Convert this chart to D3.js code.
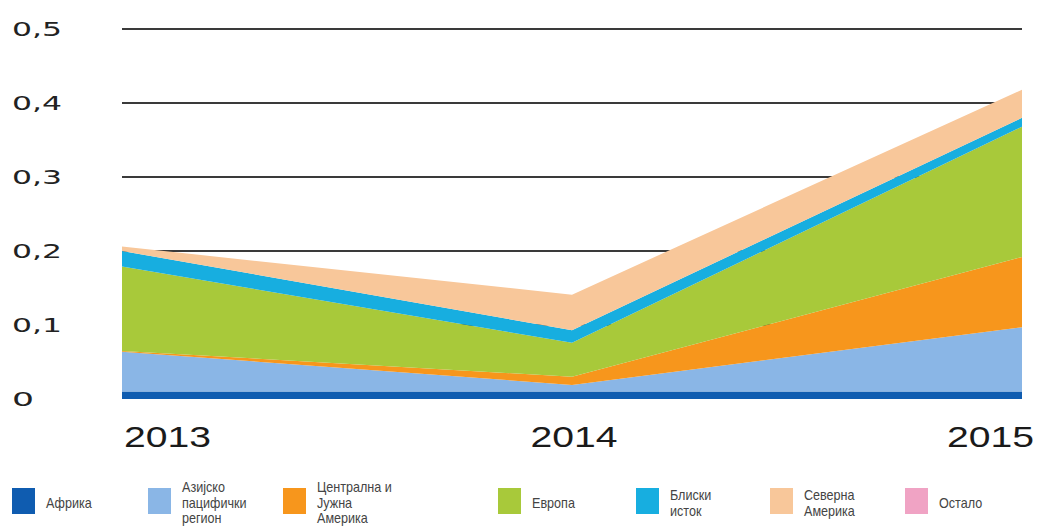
<!DOCTYPE html>
<html>
<head>
<meta charset="utf-8">
<script src="https://cdn.jsdelivr.net/npm/d3@7"></script>
<style>
  html, body { margin: 0; padding: 0; background: #fff; }
  svg { display: block; }
</style>
</head>
<body>
<svg id="chart" width="1038" height="530"></svg>
<script>
// Years on the x axis
const years = ["2013", "2014", "2015"];

// Regional values per year (stacked bottom to top)
const africa        = [0.010, 0.010, 0.010];
const asiaPacific   = [0.054, 0.009, 0.087];
const centralSouth  = [0.001, 0.011, 0.095];
const europe        = [0.114, 0.046, 0.176];
const middleEast    = [0.021, 0.017, 0.012];
const northAmerica  = [0.006, 0.048, 0.038];
const other         = [0.000, 0.000, 0.000];

// Series names as shown in the legend (line breaks with "|")
const seriesNames = [
  "Африка",
  "Азијско|пацифички|регион",
  "Централна и|Јужна|Америка",
  "Европа",
  "Блиски|исток",
  "Северна|Америка",
  "Остало"
];
const seriesValues = [africa, asiaPacific, centralSouth, europe, middleEast, northAmerica, other];
const seriesColors = ["#0f5cb0", "#8ab6e6", "#f7961c", "#a8c93a", "#17aee0", "#f8c79a", "#f0a3c4"];

// Y axis ticks
const yTicks = [0, 0.1, 0.2, 0.3, 0.4, 0.5];
const yTickLabels = ["0", "0,1", "0,2", "0,3", "0,4", "0,5"];

const svg = d3.select("#chart");

const x = d3.scalePoint().domain(years).range([122, 1022]);
const y = d3.scaleLinear().domain([0, 0.5]).range([399, 29]);

// Build table for the stack layout
const keys = seriesNames.map((d, i) => "s" + i);
const table = years.map((yr, j) => {
  const row = { year: yr };
  keys.forEach((k, i) => { row[k] = seriesValues[i][j]; });
  return row;
});
const stacked = d3.stack().keys(keys)(table);

// Grid lines (behind the areas)
svg.append("g")
  .selectAll("line")
  .data(yTicks.filter(t => t > 0))
  .join("line")
  .attr("x1", 122).attr("x2", 1022)
  .attr("y1", d => y(d)).attr("y2", d => y(d))
  .attr("stroke", "#3a3a3a")
  .attr("stroke-width", 2);

// Stacked areas
const area = d3.area()
  .x(d => x(d.data.year))
  .y0(d => y(d[0]))
  .y1(d => y(d[1]))
  .curve(d3.curveLinear);

svg.append("g")
  .selectAll("path")
  .data(stacked)
  .join("path")
  .attr("d", area)
  .attr("fill", (d, i) => seriesColors[i]);

// Y tick labels
svg.append("g")
  .selectAll("text")
  .data(yTicks)
  .join("text")
  .attr("x", 12)
  .attr("y", d => y(d) + 7)
  .attr("font-family", "'DejaVu Sans', Verdana, sans-serif")
  .attr("font-size", 19)
  .attr("fill", "#222")
  .attr("textLength", (d, i) => yTickLabels[i].length === 1 ? 22 : 50)
  .attr("lengthAdjust", "spacingAndGlyphs")
  .text((d, i) => yTickLabels[i]);

// X tick labels
const xAnchor = ["start", "middle", "end"];
const xOffset = [2, 2, 12];
svg.append("g")
  .selectAll("text")
  .data(years)
  .join("text")
  .attr("x", (d, i) => x(d) + xOffset[i])
  .attr("y", 447)
  .attr("text-anchor", (d, i) => xAnchor[i])
  .attr("font-family", "'Liberation Sans', Arial, sans-serif")
  .attr("font-size", 30)
  .attr("fill", "#1a1a1a")
  .attr("textLength", 87)
  .attr("lengthAdjust", "spacingAndGlyphs")
  .text(d => d);

// Legend
const legendX = [12, 148, 283, 498, 636, 770, 905];
const legend = svg.append("g")
  .selectAll("g")
  .data(seriesNames)
  .join("g")
  .attr("transform", (d, i) => `translate(${legendX[i]},0)`);

legend.append("rect")
  .attr("x", 0).attr("y", 488)
  .attr("width", 23).attr("height", 26)
  .attr("fill", (d, i) => seriesColors[i]);

legend.each(function(name) {
  const lines = name.split("|");
  const lh = 15.5;
  const y0 = 503 - (lines.length - 1) * lh / 2 + 5;
  const t = d3.select(this).append("text")
    .attr("font-family", "'Liberation Sans Narrow', 'Liberation Sans', Arial, sans-serif")
    .attr("font-size", 14)
    .attr("fill", "#444")
    .attr("transform", "translate(34,0) scale(0.9,1)");
  lines.forEach((ln, k) => {
    t.append("tspan").attr("x", 0).attr("y", y0 + k * lh).text(ln);
  });
});
</script>
</body>
</html>
